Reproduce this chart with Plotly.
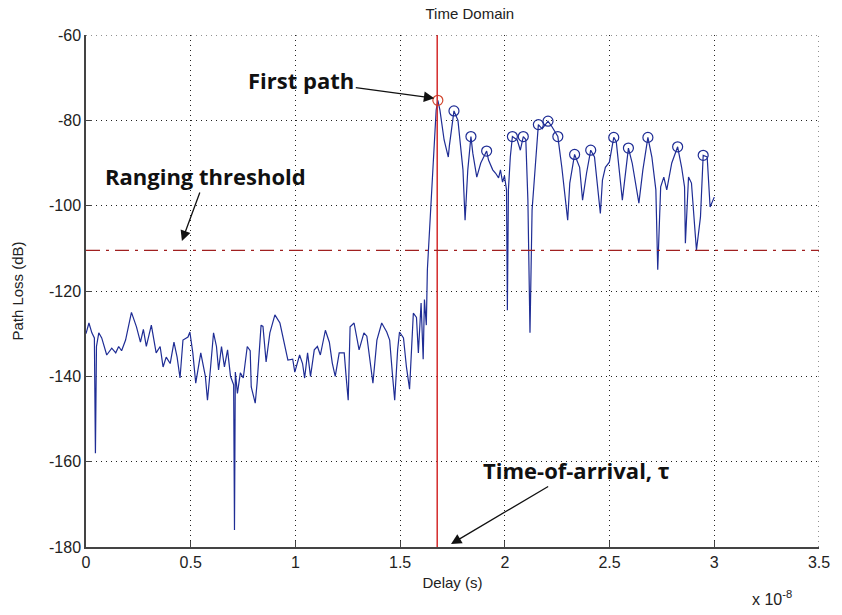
import plotly.graph_objects as go

# Delay in units of 1e-8 s, path loss in dB
delay = [0.000, 0.014, 0.028, 0.040, 0.045, 0.050, 0.061, 0.075, 0.099, 0.123, 0.142, 0.156, 0.170, 0.189,
         0.217, 0.241, 0.260, 0.274, 0.288, 0.312, 0.335, 0.354, 0.368, 0.383, 0.402, 0.420, 0.435, 0.449,
         0.463, 0.487, 0.496, 0.510, 0.524, 0.548, 0.570, 0.580, 0.595, 0.609, 0.623, 0.633, 0.647, 0.661,
         0.676, 0.690, 0.705, 0.709, 0.713, 0.723, 0.737, 0.751, 0.770, 0.784, 0.789, 0.808, 0.817, 0.836,
         0.845, 0.860, 0.878, 0.902, 0.926, 0.964, 0.987, 0.997, 1.020, 1.034, 1.044, 1.058, 1.072, 1.090,
         1.105, 1.119, 1.143, 1.162, 1.176, 1.190, 1.209, 1.233, 1.242, 1.252, 1.261, 1.280, 1.304, 1.327,
         1.341, 1.356, 1.370, 1.389, 1.412, 1.436, 1.450, 1.464, 1.474, 1.488, 1.497, 1.516, 1.530, 1.545,
         1.563, 1.578, 1.587, 1.600, 1.610, 1.616, 1.625, 1.630, 1.640, 1.650, 1.660, 1.672, 1.680, 1.690,
         1.710, 1.730, 1.735, 1.757, 1.776, 1.790, 1.800, 1.810, 1.823, 1.838, 1.847, 1.866, 1.885, 1.913,
         1.922, 1.942, 1.956, 1.970, 1.979, 1.989, 1.998, 2.008, 2.012, 2.017, 2.026, 2.036, 2.059, 2.074,
         2.088, 2.100, 2.110, 2.120, 2.130, 2.145, 2.160, 2.178, 2.206, 2.225, 2.253, 2.272, 2.286, 2.300,
         2.310, 2.333, 2.357, 2.371, 2.390, 2.410, 2.428, 2.442, 2.456, 2.466, 2.480, 2.499, 2.520, 2.532,
         2.551, 2.561, 2.590, 2.608, 2.640, 2.659, 2.683, 2.702, 2.721, 2.730, 2.744, 2.759, 2.773, 2.797,
         2.825, 2.844, 2.858, 2.862, 2.877, 2.891, 2.910, 2.915, 2.934, 2.947, 2.966, 2.980, 3.000]
path_loss = [-130, -127.5, -129.8, -131, -158, -133, -129.8, -131, -135, -133.4, -134.5, -133, -134, -131.5,
             -125, -128.4, -132, -129, -133, -128, -134.5, -133, -137.8, -135.5, -137, -132, -135.5, -140.4,
             -131.5, -130.8, -129.6, -134.5, -141.6, -134.5, -140, -145.6, -137.8, -129.8, -133, -138.5, -133, -137.8,
             -133.8, -140, -142, -176, -139, -144, -139.2, -140.4, -133, -134, -142.5, -146.3, -141.6, -128,
             -128.3, -136.6, -129.8, -125.6, -127.5, -136.2, -136, -139, -135, -137, -140.4, -134.5, -140, -133.8,
             -133, -135, -129.2, -132, -136.9, -140, -134.5, -134.5, -140, -145.6, -128.4, -127.5, -133.8, -129.8,
             -130.6, -136.2, -141.6, -131.5, -127.5, -129.6, -131.5, -140, -145.6, -133.8, -129.6, -131, -137.8, -143,
             -125.2, -126.2, -134.5, -122.8, -136, -122, -128, -115, -106.4, -96.3, -87, -77.6, -75.3, -77.6,
             -84.6, -88.6, -86, -77.8, -80, -87, -91.6, -103.4, -91.6, -83.8, -87.7, -93.3, -90, -87.2,
             -89.3, -91.6, -92.4, -93.5, -91.6, -94.5, -93, -96.3, -124.5, -96.3, -88.6, -83.8, -84.6, -87,
             -83.8, -84.5, -98.7, -129.8, -101, -91, -81, -82, -80.2, -81.5, -83.8, -91, -97, -103.4,
             -94.7, -88, -91, -98.7, -92.4, -87, -88.6, -95.6, -101.8, -94, -91, -89.8, -84, -85,
             -94.7, -98.7, -86.5, -90, -99.4, -91.6, -84, -88.6, -96.3, -115, -95.6, -93.3, -96.3, -90,
             -86.2, -91, -95.6, -108.8, -93.3, -94.7, -107.3, -110.4, -102.7, -88.2, -88.6, -100.3, -98]

peak_delay = [1.757, 1.838, 1.913, 2.036, 2.088, 2.160, 2.206, 2.253, 2.333, 2.410, 2.520, 2.590, 2.683, 2.825, 2.947]
peak_loss = [-77.8, -83.8, -87.2, -83.8, -83.8, -81, -80.2, -83.8, -88, -87, -84, -86.5, -84, -86.2, -88.2]

first_path_delay = [1.680]
first_path_loss = [-75.3]
toa_delay = 1.677
ranging_threshold = -110.5

x_ticks = [0, 0.5, 1, 1.5, 2, 2.5, 3, 3.5]
x_tick_labels = ["0", "0.5", "1", "1.5", "2", "2.5", "3", "3.5"]
y_ticks = [-180, -160, -140, -120, -100, -80, -60]
y_tick_labels = ["-180", "-160", "-140", "-120", "-100", "-80", "-60"]

LINE = "#1f2d95"
TICKFONT = dict(family="Liberation Sans, Arial, sans-serif", size=16, color="#222222")
LABELFONT = dict(family="Liberation Sans, Arial, sans-serif", size=15, color="#222222")
ANNFONT = dict(family="Open Sans, sans-serif", size=22, color="#111111")

fig = go.Figure()
fig.add_trace(go.Scatter(x=delay, y=path_loss, mode="lines",
                         line=dict(color=LINE, width=1.2), showlegend=False))
fig.add_trace(go.Scatter(x=peak_delay, y=peak_loss, mode="markers",
                         marker=dict(symbol="circle-open", size=10, color=LINE, line=dict(width=1.2)),
                         showlegend=False))
fig.add_trace(go.Scatter(x=first_path_delay, y=first_path_loss, mode="markers",
                         marker=dict(symbol="circle-open", size=10, color="#d2472f", line=dict(width=1.2)),
                         showlegend=False))

fig.add_vline(x=toa_delay, line=dict(color="#d42a2a", width=1.5))
fig.add_hline(y=ranging_threshold, line=dict(color="#a02020", width=1.3, dash="14px,6px,3px,6px"))

grid = dict(showgrid=True, gridcolor="#222222", gridwidth=1, griddash="1px,4px",
            showline=True, linecolor="#444444", linewidth=1.5, ticks="inside", ticklen=6,
            tickcolor="#444444", zeroline=False, tickfont=TICKFONT)

fig.update_xaxes(range=[0, 3.5], tickvals=x_ticks, ticktext=x_tick_labels,
                 title=dict(text="Delay (s)", font=LABELFONT, standoff=8), **grid)
fig.update_yaxes(range=[-180, -60], tickvals=y_ticks, ticktext=y_tick_labels,
                 title=dict(text="Path Loss (dB)", font=LABELFONT, standoff=22), **grid)

# Top and right dotted borders (grid lines at axis extents)
fig.add_hline(y=-60, line=dict(color="#222222", width=1, dash="1px,4px"))
fig.add_vline(x=3.5, line=dict(color="#222222", width=1, dash="1px,4px"))

fig.add_annotation(x=1.663, y=-74.8, ax=-133, ay=-18, text="<b>First path</b>", showarrow=True,
                   arrowhead=2, arrowsize=1.6, arrowwidth=1.3, arrowcolor="#111111", font=ANNFONT)
fig.add_annotation(x=0.458, y=-108.3, ax=24, ay=-65, text="<b>Ranging threshold</b>", showarrow=True,
                   arrowhead=2, arrowsize=1.6, arrowwidth=1.3, arrowcolor="#111111", font=ANNFONT)
fig.add_annotation(x=1.743, y=-179.3, ax=125, ay=-74, text="<b>Time-of-arrival, τ</b>", showarrow=True,
                   arrowhead=2, arrowsize=1.6, arrowwidth=1.3, arrowcolor="#111111", font=ANNFONT)
fig.add_annotation(xref="paper", yref="paper", x=0.936, y=-0.1, xanchor="center", yanchor="middle",
                   text="x 10<sup>-8</sup>", showarrow=False, font=TICKFONT)

fig.update_layout(
    width=842, height=615,
    margin=dict(l=86, r=14, t=35, b=68),
    paper_bgcolor="white", plot_bgcolor="white",
    title=dict(text="Time Domain", x=0.558, xanchor="center", y=0.978, yanchor="middle",
               font=dict(family="Liberation Sans, Arial, sans-serif", size=15, color="#222222")),
)

fig.write_html("out.html")
